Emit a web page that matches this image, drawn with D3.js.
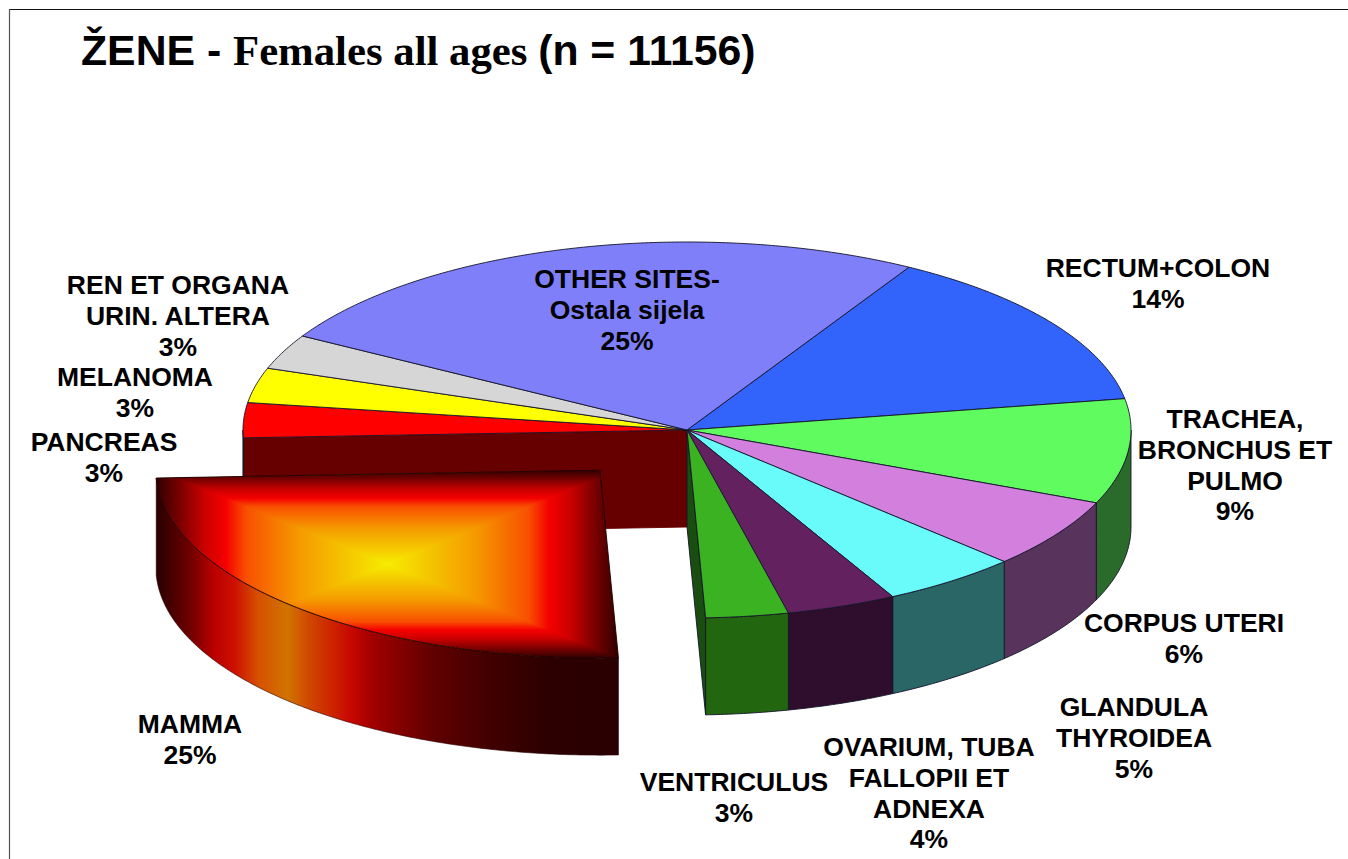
<!DOCTYPE html>
<html>
<head>
<meta charset="utf-8">
<title>ŽENE - Females all ages</title>
<script src="https://cdn.jsdelivr.net/npm/d3@7"></script>
<style>
	html, body { margin: 0; padding: 0; background: #fff; overflow: hidden; }
	svg { display: block; }
	.label { font-family: "Liberation Sans", Arial, sans-serif; font-weight: bold; font-size: 26.5px; fill: #000; text-anchor: middle; }
	.title { font-family: "Liberation Sans", Arial, sans-serif; font-weight: bold; font-size: 42.75px; fill: #000; }
	.title .serif { font-family: "Liberation Serif", "Times New Roman", serif; }
</style>
</head>
<body>
<svg id="chart" width="1348" height="859"></svg>
<script>
// data, clockwise, starting from the rectum/other sites boundary
const SITES = ['RECTUM+COLON', 'TRACHEA', 'CORPUS UTERI', 'GLANDULA THYROIDEA', 'OVARIUM', 'VENTRICULUS', 'MAMMA', 'PANCREAS', 'MELANOMA', 'REN ET ORGANA', 'OTHER SITES'];
const PERCENTS = [14, 9, 6, 5, 4, 3, 25, 3, 3, 3, 25];
const LABEL_LINES = [
	['RECTUM+COLON'],
	['TRACHEA,', 'BRONCHUS ET', 'PULMO'],
	['CORPUS UTERI'],
	['GLANDULA', 'THYROIDEA'],
	['OVARIUM, TUBA', 'FALLOPII ET', 'ADNEXA'],
	['VENTRICULUS'],
	['MAMMA'],
	['PANCREAS'],
	['MELANOMA'],
	['REN ET ORGANA', 'URIN. ALTERA'],
	['OTHER SITES-', 'Ostala sijela']
];

// styles, same order as SITES
const TOP_COLORS = ['#3264fb', '#5ffb5f', '#d37fde', '#69fafa', '#64215f', '#3bb222', '#c00000', '#ff0000', '#ffff00', '#d6d6d6', '#7f7ff9'];
const SIDE_COLORS = ['#1a3380', '#2a6a2a', '#58345c', '#2a6666', '#2e0e2c', '#22660f', '#800000', '#660000', '#808000', '#6b6b6b', '#40407d'];
const CUT_RED = '#660000';
const CUT_GREEN = '#1a4d10';
const EXPLODED = 'MAMMA';

// label anchors: centre x, baseline of first line
const LABEL_POS = [[1158, 277], [1235, 428], [1184, 632], [1134, 716], [929, 756], [734, 791], [190, 733], [104, 451], [135, 386], [178, 294], [627, 288]];
const LINE_HEIGHT = 30.8;

const CX = 687, CY = 430, RX = 444, RY = 188;
const DEPTH = 97; // px
const EXPLODE = 0.29; // share of radius
const START_DEG = 30;

const svg = d3.select('#chart');
const defs = svg.append('defs');

// frame
svg.append('line').attr('x1', 9).attr('x2', 1348).attr('y1', 9.5).attr('y2', 9.5).attr('stroke', '#111').attr('stroke-width', 1.2);
svg.append('line').attr('x1', 9.5).attr('x2', 9.5).attr('y1', 9).attr('y2', 859).attr('stroke', '#555').attr('stroke-width', 1.2);

// title
const title = svg.append('text').attr('class', 'title').attr('x', 81).attr('y', 65);
title.append('tspan').text('ŽENE - ');
title.append('tspan').attr('class', 'serif').text('Females all ages ');
title.append('tspan').text('(n = 11156)');

const xScale = d3.scaleLinear().domain([-1, 1]).range([CX - RX, CX + RX]);
const yScale = d3.scaleLinear().domain([-1, 1]).range([CY - RY, CY + RY]);
const line = d3.line();

const toRad = (deg) => deg * Math.PI / 180;
const pie = d3.pie().sort(null).value((d) => d).startAngle(toRad(START_DEG)).endAngle(toRad(START_DEG + 360));
const slices = pie(PERCENTS).map((s, i) => {
	const mid = (s.startAngle + s.endAngle) / 2;
	const exploded = SITES[i] === EXPLODED;
	return {
		name: SITES[i],
		a0: s.startAngle,
		a1: s.endAngle,
		top: TOP_COLORS[i],
		side: SIDE_COLORS[i],
		// centre of the slice after pulling it out
		ox: exploded ? Math.sin(mid) * EXPLODE : 0,
		oy: exploded ? -Math.cos(mid) * EXPLODE : 0
	};
});

function point(angle, r, s, drop) {
	return [ xScale(s.ox + Math.sin(angle) * r), yScale(s.oy - Math.cos(angle) * r) + (drop || 0) ];
}

function arcPoints(s, a0, a1, drop) {
	const n = Math.max(2, Math.ceil((a1 - a0) / toRad(0.5)));
	return d3.range(n + 1).map((k) => point(a0 + (a1 - a0) * k / n, 1, s, drop));
}

function topPath(s) {
	return line([ point(0, 0, s) ].concat(arcPoints(s, s.a0, s.a1))) + 'Z';
}

// outer wall, only the part facing the viewer
function wallPath(s) {
	const a0 = Math.max(s.a0, Math.PI / 2);
	const a1 = Math.min(s.a1, Math.PI * 1.5);
	if (a1 <= a0) return null;
	return line(arcPoints(s, a0, a1).concat(arcPoints(s, a0, a1, DEPTH).reverse())) + 'Z';
}

function cutPath(s, angle) {
	return line([ point(0, 0, s), point(angle, 1, s), point(angle, 1, s, DEPTH), point(0, 0, s, DEPTH) ]) + 'Z';
}

const pieG = svg.append('g').attr('stroke', '#14142a').attr('stroke-width', 0.9).attr('stroke-linejoin', 'round');
const heroIndex = SITES.indexOf(EXPLODED);
const hero = slices[heroIndex];
const flat = slices.filter((s) => s !== hero);

// walls exposed by the pulled out slice
pieG.append('path').attr('d', cutPath(slices[heroIndex + 1], hero.a1)).attr('fill', CUT_RED).attr('stroke', CUT_RED);
pieG.append('path').attr('d', cutPath(slices[heroIndex - 1], hero.a0)).attr('fill', CUT_GREEN);

pieG.selectAll('path.wall')
	.data(flat.filter((s) => wallPath(s)))
	.enter()
	.append('path')
	.attr('class', 'wall')
	.attr('d', wallPath)
	.attr('fill', (d) => d.side);

pieG.selectAll('path.face')
	.data(flat)
	.enter()
	.append('path')
	.attr('class', 'face')
	.attr('d', topPath)
	.attr('fill', (d) => d.top);

// exploded slice: wall gradient runs left to right, face gradient is a box around its centre
const heroTop = [ point(0, 0, hero) ].concat(arcPoints(hero, hero.a0, hero.a1));
const [ bx0, bx1 ] = d3.extent(heroTop, (d) => d[0]);
const [ by0, by1 ] = d3.extent(heroTop, (d) => d[1]);

function gradient(id, x1, y1, x2, y2, stops) {
	const g = defs.append('linearGradient').attr('id', id).attr('gradientUnits', 'userSpaceOnUse')
		.attr('x1', x1).attr('y1', y1).attr('x2', x2).attr('y2', y2);
	stops.forEach((st) => g.append('stop').attr('offset', st[0]).attr('stop-color', st[1]));
}

const SIDE_STOPS = [
	[0, '#280000'], [0.07, '#6b0000'], [0.125, '#bb0000'], [0.17, '#cc1000'], [0.22, '#d65000'],
	[0.285, '#d07400'], [0.33, '#d04800'], [0.42, '#c80800'], [0.47, '#a00000'], [0.6, '#600000'],
	[0.75, '#3c0000'], [0.85, '#2c0000'], [1, '#2a0000']
];
const FACE_STOPS = [
	[0, '#300000'], [0.11, '#800000'], [0.21, '#cc0000'], [0.3, '#f50000'], [0.39, '#f85000'],
	[0.62, '#f59a00'], [0.85, '#f5cc00'], [1, '#f7ec00']
];
const FACE_CX = (bx0 + bx1) / 2;
const FACE_CY = (by0 + by1) / 2;

gradient('hero-side', bx0, 0, bx1, 0, SIDE_STOPS);
gradient('hero-left', bx0, 0, FACE_CX, 0, FACE_STOPS);
gradient('hero-right', bx1, 0, FACE_CX, 0, FACE_STOPS);
gradient('hero-up', 0, by0, 0, FACE_CY, FACE_STOPS);
gradient('hero-down', 0, by1, 0, FACE_CY, FACE_STOPS);

defs.append('clipPath').attr('id', 'hero-clip').append('path').attr('d', topPath(hero));

pieG.append('path').attr('d', wallPath(hero)).attr('fill', 'url(#hero-side)').attr('stroke', '#2a0000').attr('stroke-width', 0.6);

const heroG = svg.append('g').attr('clip-path', 'url(#hero-clip)');
heroG.append('rect').attr('x', bx0).attr('y', by0).attr('width', FACE_CX - bx0).attr('height', by1 - by0).attr('fill', 'url(#hero-left)');
heroG.append('rect').attr('x', FACE_CX).attr('y', by0).attr('width', bx1 - FACE_CX).attr('height', by1 - by0).attr('fill', 'url(#hero-right)');
heroG.append('path').attr('d', line([ [bx0, by0], [bx1, by0], [FACE_CX, FACE_CY] ]) + 'Z').attr('fill', 'url(#hero-up)');
heroG.append('path').attr('d', line([ [bx0, by1], [bx1, by1], [FACE_CX, FACE_CY] ]) + 'Z').attr('fill', 'url(#hero-down)');
svg.append('path').attr('d', topPath(hero)).attr('fill', 'none').attr('stroke', '#1a0000').attr('stroke-width', 0.9);

// labels go last, some sit on top of the pie
const labels = svg.selectAll('text.label')
	.data(SITES)
	.enter()
	.append('text')
	.attr('class', 'label');

labels.each(function (d, i) {
	const rows = LABEL_LINES[i].concat(PERCENTS[i] + '%');
	d3.select(this).selectAll('tspan')
		.data(rows)
		.enter()
		.append('tspan')
		.attr('x', LABEL_POS[i][0])
		.attr('y', (r, k) => LABEL_POS[i][1] + k * LINE_HEIGHT)
		.text((r) => r);
});
</script>
</body>
</html>
